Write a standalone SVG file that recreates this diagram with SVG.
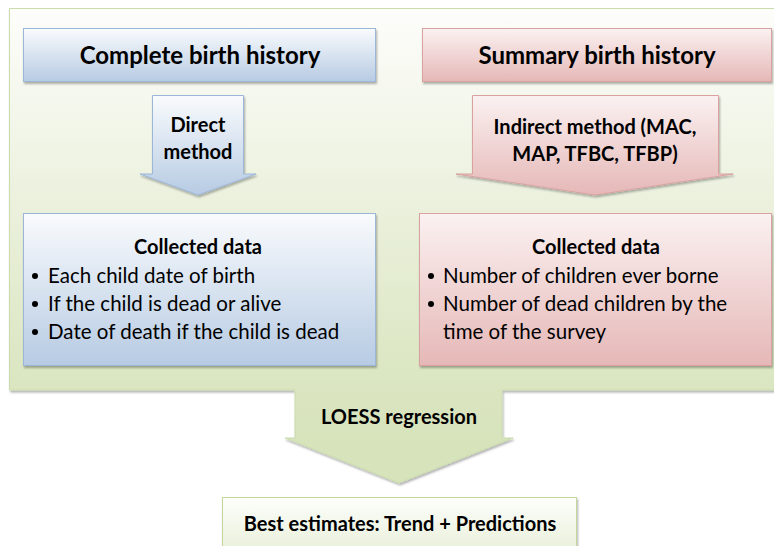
<svg xmlns="http://www.w3.org/2000/svg" width="774" height="546" viewBox="0 0 774 546">
<defs>
<linearGradient id="gPanel" gradientUnits="userSpaceOnUse" x1="0" y1="8" x2="0" y2="440">
<stop offset="0" stop-color="#fdfdfb"/>
<stop offset="0.85" stop-color="#dbe6c2"/>
<stop offset="1" stop-color="#d7e3bb"/>
</linearGradient>
<linearGradient id="gBlue" x1="0" y1="0" x2="0" y2="1">
<stop offset="0" stop-color="#f9fbfd"/>
<stop offset="1" stop-color="#b7cbe3"/>
</linearGradient>
<linearGradient id="gPink" x1="0" y1="0" x2="0" y2="1">
<stop offset="0" stop-color="#fbf1f1"/>
<stop offset="1" stop-color="#e5b8b7"/>
</linearGradient>
<linearGradient id="gGreen" x1="0" y1="0" x2="0" y2="1">
<stop offset="0" stop-color="#fdfefb"/>
<stop offset="1" stop-color="#e6eed6"/>
</linearGradient>
<filter id="sh" x="-5%" y="-5%" width="110%" height="115%">
<feDropShadow dx="1" dy="2" stdDeviation="1" flood-color="#000" flood-opacity="0.3"/>
</filter>
</defs>
<style>
text{font-family:Lato,"Open Sans","Liberation Sans",sans-serif;fill:#000}
.h{font-size:24px;font-weight:bold;text-anchor:middle}
.m{font-size:20px;font-weight:bold;text-anchor:middle}
.b{font-size:20.5px}
.blue{fill:url(#gBlue);stroke:#9cb6d8;stroke-width:1;filter:url(#sh)}
.pink{fill:url(#gPink);stroke:#d9a2a0;stroke-width:1;filter:url(#sh)}
.green{fill:url(#gGreen);stroke:#c3d69b;stroke-width:1;filter:url(#sh)}
</style>
<g id="panel">
<path d="M9.5,8.5 H776 V390 H502 V438 H513 L399,483 L285,438 H295 V390 H9.5 Z" fill="url(#gPanel)" stroke="#cadcac" stroke-width="1" filter="url(#sh)"/>
<text class="m" x="399" y="424">LOESS regression</text>
</g>
<g id="complete">
<rect class="blue" x="23.5" y="28.5" width="352" height="53"/>
<text class="h" x="200" y="64">Complete birth history</text>
</g>
<g id="summary">
<rect class="pink" x="422.5" y="28.5" width="349" height="53"/>
<text class="h" x="597" y="64">Summary birth history</text>
</g>
<g id="connectors">
<g id="direct">
<path class="blue" d="M152.5,95.5 H243.5 V174 H256 L198,195 L140,174 H152.5 Z"/>
<text class="m" x="198" y="132">Direct</text>
<text class="m" x="198" y="159">method</text>
</g>
<g id="indirect">
<path class="pink" d="M472.5,95.5 H718.5 V174 H733 L595,195 L456,174 H472.5 Z"/>
<text class="m" x="595" y="134">Indirect method (MAC,</text>
<text class="m" x="595" y="161">MAP, TFBC, TFBP)</text>
</g>
</g>
<g id="data-left">
<rect class="blue" x="23.5" y="213.5" width="352" height="152"/>
<text class="m" x="198" y="254">Collected data</text>
<circle cx="35" cy="276" r="3"/>
<text class="b" x="48" y="283">Each child date of birth</text>
<circle cx="35" cy="304" r="3"/>
<text class="b" x="48" y="311">If the child is dead or alive</text>
<circle cx="35" cy="332" r="3"/>
<text class="b" x="48" y="339">Date of death if the child is dead</text>
</g>
<g id="data-right">
<rect class="pink" x="419.5" y="213.5" width="352" height="152"/>
<text class="m" x="596" y="254">Collected data</text>
<circle cx="431" cy="276" r="3"/>
<text class="b" x="443" y="283">Number of children ever borne</text>
<circle cx="431" cy="304" r="3"/>
<text class="b" x="443" y="311">Number of dead children by the</text>
<text class="b" x="443" y="339">time of the survey</text>
</g>
<g id="best">
<rect class="green" x="222.5" y="497.5" width="354" height="60"/>
<text class="m" x="400" y="531">Best estimates: Trend + Predictions</text>
</g>
</svg>
